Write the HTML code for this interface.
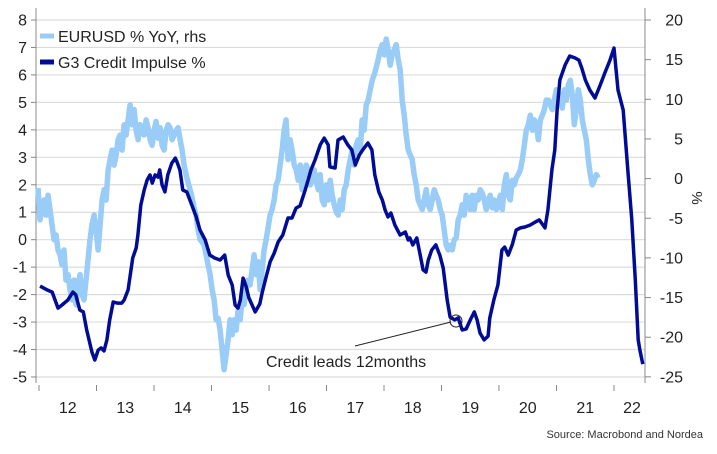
<!DOCTYPE html>
<html><head><meta charset="utf-8">
<style>
html,body{margin:0;padding:0;background:#fff;}
svg{display:block;font-family:"Liberation Sans",sans-serif;}
</style></head>
<body>
<svg id="chart" width="717" height="454" viewBox="0 0 717 454">
<g id="grid"></g>
<g id="axes"></g>
<g id="series"></g>
<g>
  <line x1="40" y1="36" x2="54" y2="36" stroke="#99ccf7" stroke-width="5"/>
  <text x="58" y="42" font-size="16" fill="#222">EURUSD % YoY, rhs</text>
  <line x1="40" y1="62" x2="54" y2="62" stroke="#000c96" stroke-width="5"/>
  <text x="58" y="68" font-size="16" fill="#222">G3 Credit Impulse %</text>
</g>
<g>
  <line x1="355" y1="346" x2="451" y2="322" stroke="#222" stroke-width="1"/>
  <circle cx="456" cy="321" r="6" fill="none" stroke="#222" stroke-width="1"/>
  <text x="266" y="367" font-size="16" fill="#222">Credit leads 12months</text>
</g>
<text x="0" y="0" transform="translate(692,198) rotate(90)" font-size="15" fill="#222" text-anchor="middle">%</text>
<text x="703" y="438" font-size="11" fill="#333" text-anchor="end">Source: Macrobond and Nordea</text>
</svg>
<script>
const leftTicks = [8,7,6,5,4,3,2,1,0,-1,-2,-3,-4,-5];
const rightTicks = [20,15,10,5,0,-5,-10,-15,-20,-25];
const yearLabels = ["12","13","14","15","16","17","18","19","20","21","22"];
const creditT = [0.02,0.14,0.23,0.33,0.40,0.50,0.59,0.64,0.71,0.77,0.83,0.92,0.97,1.03,1.08,1.13,1.18,1.23,1.29,1.36,1.44,1.48,1.55,1.60,1.63,1.69,1.72,1.77,1.83,1.88,1.93,1.97,2.02,2.07,2.10,2.14,2.19,2.24,2.31,2.37,2.40,2.45,2.50,2.57,2.73,2.80,2.89,2.97,3.06,3.15,3.18,3.23,3.29,3.36,3.41,3.46,3.50,3.55,3.60,3.65,3.76,3.84,3.88,3.95,4.02,4.09,4.16,4.24,4.33,4.40,4.47,4.54,4.59,4.63,4.68,4.73,4.80,4.89,4.96,5.03,5.06,5.15,5.20,5.29,5.37,5.44,5.50,5.57,5.63,5.72,5.79,5.84,5.91,5.97,6.02,6.07,6.12,6.19,6.28,6.37,6.42,6.45,6.50,6.57,6.63,6.68,6.73,6.77,6.83,6.90,6.97,7.03,7.10,7.15,7.23,7.29,7.36,7.43,7.50,7.57,7.62,7.67,7.74,7.81,7.84,7.91,7.98,8.05,8.10,8.16,8.23,8.30,8.37,8.45,8.54,8.63,8.70,8.80,8.85,8.92,8.97,9.01,9.06,9.15,9.23,9.32,9.39,9.44,9.50,9.58,9.67,9.76,9.84,9.93,10.00,10.07,10.16,10.24,10.31,10.37,10.42,10.45,10.50];
const creditV = [-1.69,-1.83,-1.91,-2.49,-2.38,-2.20,-1.91,-2.01,-2.56,-2.63,-3.29,-4.09,-4.38,-4.02,-3.94,-4.05,-3.65,-2.92,-2.27,-2.31,-2.31,-2.20,-1.83,-1.10,-0.67,-0.30,0.17,1.26,1.81,2.17,2.36,2.06,2.36,2.28,2.54,1.99,1.74,2.36,2.79,2.97,2.83,2.54,1.81,1.74,0.86,0.35,-0.01,-0.56,-0.67,-0.74,-0.67,-0.56,-1.29,-1.65,-2.38,-2.49,-2.20,-1.40,-1.69,-2.12,-2.63,-2.34,-1.94,-1.36,-0.81,-0.49,-0.08,0.17,0.79,0.79,1.15,1.23,1.55,1.81,2.17,2.54,2.90,3.45,3.70,3.45,2.65,2.61,3.63,3.74,3.45,3.27,2.72,3.08,3.27,3.52,3.27,2.36,1.74,1.45,1.08,0.83,0.97,0.53,0.17,0.28,-0.01,0.06,-0.19,0.06,-0.56,-1.10,-1.18,-0.74,-0.38,-0.19,-0.56,-1.03,-2.20,-2.82,-2.92,-2.85,-3.29,-3.25,-2.92,-2.63,-2.92,-3.40,-3.65,-3.51,-2.85,-2.20,-1.65,-0.38,-0.27,-0.56,-0.19,0.35,0.43,0.46,0.53,0.64,0.72,0.43,1.08,2.54,3.27,4.72,5.82,6.36,6.69,6.62,6.54,6.25,5.82,5.45,5.16,5.63,6.07,6.54,6.98,5.45,4.72,2.54,0.72,-1.47,-3.65,-4.02,-4.53];
const eurStart = 2011.983;
const eurStepYears = 0.0348;
const eurV = [-1.2,-5.2,-3.9,-2.7,-4.6,-2.1,-3.9,-5.8,-7.7,-7.1,-9.0,-9.6,-10.9,-9.0,-12.8,-12.1,-14.0,-15.3,-12.8,-15.9,-13.4,-12.1,-14.6,-15.3,-12.8,-10.3,-7.7,-5.8,-4.6,-6.5,-9.0,-5.8,-2.7,-1.4,-2.7,1.1,2.4,3.6,1.7,3.0,4.9,5.5,3.6,6.8,5.5,7.4,9.3,6.8,8.7,6.1,4.9,6.8,6.1,5.5,7.4,6.4,4.9,4.2,6.1,7.2,5.1,6.4,4.2,3.6,6.1,6.8,6.4,4.9,5.5,6.1,6.4,4.9,3.6,1.7,0.5,-0.5,-1.4,-2.4,-3.7,-4.6,-6.5,-7.7,-8.0,-8.4,-9.6,-10.9,-12.1,-14.0,-15.3,-17.8,-17.6,-19.1,-21.6,-24.1,-22.2,-20.3,-17.8,-19.7,-17.8,-19.1,-16.6,-17.8,-15.3,-15.9,-14.0,-12.8,-13.4,-11.5,-9.6,-12.1,-10.5,-14.0,-11.5,-9.0,-7.7,-6.2,-4.6,-3.9,-2.7,-0.8,-0.2,1.7,3.6,6.1,7.4,2.4,4.9,3.6,1.7,1.1,-0.2,1.7,-1.4,0.5,1.7,1.1,-0.8,-0.2,1.1,-0.2,-1.4,0.5,-2.7,-3.3,-0.8,-2.7,-0.2,-2.1,-3.3,-4.2,-4.6,-2.7,-3.9,-1.4,-0.8,1.1,2.4,3.6,1.7,4.2,4.9,3.6,7.4,6.1,9.3,9.9,11.2,12.4,13.1,14.0,15.0,16.2,16.9,15.6,17.6,16.2,14.3,15.6,16.2,16.9,15.0,13.7,9.9,8.0,5.5,3.6,3.0,2.4,0.5,-0.8,-2.7,-3.3,-3.9,-2.7,-1.4,-3.3,-3.9,-2.7,-1.4,-2.1,-2.7,-3.9,-4.6,-6.5,-8.4,-9.0,-8.4,-9.0,-7.7,-7.5,-5.2,-4.6,-3.3,-4.6,-2.1,-2.7,-3.9,-2.1,-3.9,-2.1,-2.7,-1.4,-1.8,-2.7,-3.9,-2.7,-2.1,-3.7,-2.7,-3.9,-3.3,-2.1,-3.9,-0.8,0.5,-2.1,-2.7,-0.2,-0.8,0.1,0.5,1.1,2.4,4.2,6.1,6.8,8.0,6.1,7.4,6.8,4.9,7.4,8.0,8.7,9.9,9.9,9.3,8.7,9.9,11.2,9.3,10.6,8.9,11.2,9.9,11.8,12.4,10.6,6.8,8.7,11.2,9.9,7.4,6.1,4.9,2.4,0.5,-0.8,-0.2,0.5,0.1];

const NS="http://www.w3.org/2000/svg";
const plotL=36, plotR=645, plotT=20, plotB=383;
function xT(t){return 39+(t-2012)*57.5;}
function yL(v){return 20+(8-v)*27.46;}
function yR(r){return 20+(20-r)*7.93;}
function mk(tag,attrs,parent){const e=document.createElementNS(NS,tag);for(const k in attrs)e.setAttribute(k,attrs[k]);parent.appendChild(e);return e;}
const grid=document.getElementById('grid'), axes=document.getElementById('axes'), series=document.getElementById('series');

leftTicks.forEach(v=>{
  const y=yL(v);
  const g=mk('line',{x1:plotL,x2:plotR,y1:y,y2:y,stroke:'#dcdcdc','stroke-width':1.2},grid);
  
  
  const tk=mk('line',{x1:plotL-5,x2:plotL,y1:y,y2:y,stroke:'#888'},axes);
  
  
  const t=mk('text',{x:27,y:y+5.5,'font-size':16,'text-anchor':'end',fill:'#222'},axes);
  t.textContent=v;
  
  
});
rightTicks.forEach(r=>{
  const y=yR(r);
  const tk=mk('line',{x1:plotR,x2:plotR+6,y1:y,y2:y,stroke:'#888'},axes);
  
  
  const t=mk('text',{x:683,y:y+5.5,'font-size':16,'text-anchor':'end',fill:'#222'},axes);
  t.textContent=r;
  
  
});
const la=mk('line',{x1:plotL,x2:plotL,y1:8,y2:plotB,stroke:'#888'},axes);


const ra=mk('line',{x1:plotR,x2:plotR,y1:8,y2:plotB,stroke:'#888'},axes);


yearLabels.forEach((lab,i)=>{
  const x=xT(2012+i);
  const tk=mk('line',{x1:x,x2:x,y1:plotB+2,y2:plotB+8,stroke:'#888'},axes);
  
  
  const cx=Math.min(xT(2012+i+0.5), 632);
  const t=mk('text',{x:cx,y:413,'font-size':16,'text-anchor':'middle',fill:'#222'},axes);
  t.textContent=lab;
  
  
});

let d='';
eurV.forEach((r,i)=>{d+=(i?'L':'M')+xT(eurStart+i*eurStepYears).toFixed(1)+','+yR(r).toFixed(1);});
const eur=mk('path',{d:d,fill:'none',stroke:'#99ccf7','stroke-width':5.5,'stroke-linejoin':'round'},series);



d='';
creditV.forEach((v,i)=>{d+=(i?'L':'M')+xT(2012+creditT[i]).toFixed(1)+','+yL(v).toFixed(1);});
const cr=mk('path',{d:d,fill:'none',stroke:'#000c96','stroke-width':3.5,'stroke-linejoin':'round'},series);


</script>
</body></html>
